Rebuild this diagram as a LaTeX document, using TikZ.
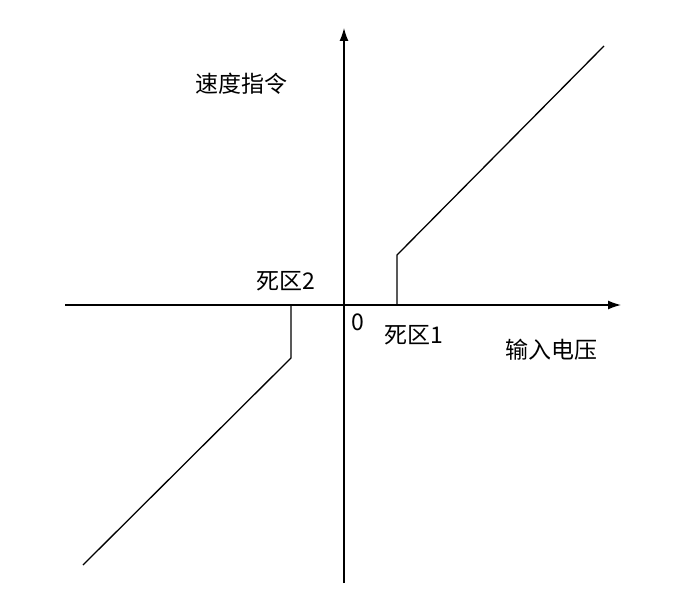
\documentclass[tikz,border=0pt]{standalone}
\usetikzlibrary{arrows.meta}
\usepackage{fontspec}
\setmainfont{Noto Sans CJK SC}
\begin{document}
\begin{tikzpicture}[x=1pt,y=-1pt,line width=1.3pt,
  lbl/.style={font=\fontsize{23}{26}\selectfont,inner sep=0pt},
  ar/.style={-{Latex[length=13pt,width=9pt]}}]
\useasboundingbox (0,0) rectangle (683,602);
\coordinate (xl) at (65,305); \coordinate (xr) at (621,305);
\coordinate (yb) at (344,583); \coordinate (yt) at (344,28);
\draw[ar] (xl) -- (xr);
\draw[ar] (yb) -- (yt);
\coordinate (a1) at (397,305); \coordinate (a2) at (397,255); \coordinate (a3) at (604,46);
\coordinate (b1) at (291,305); \coordinate (b2) at (291,358); \coordinate (b3) at (83,565);
\draw (a1) -- (a2) -- (a3);
\draw (b1) -- (b2) -- (b3);
\node[lbl] (t1) at (241,84) {速度指令};
\node[lbl] (t2) at (286,281) {死区2};
\node[lbl] (t3) at (358,322) {0};
\node[lbl] (t4) at (414,335) {死区1};
\node[lbl] (t5) at (551,350) {输入电压};
\end{tikzpicture}
\end{document}
